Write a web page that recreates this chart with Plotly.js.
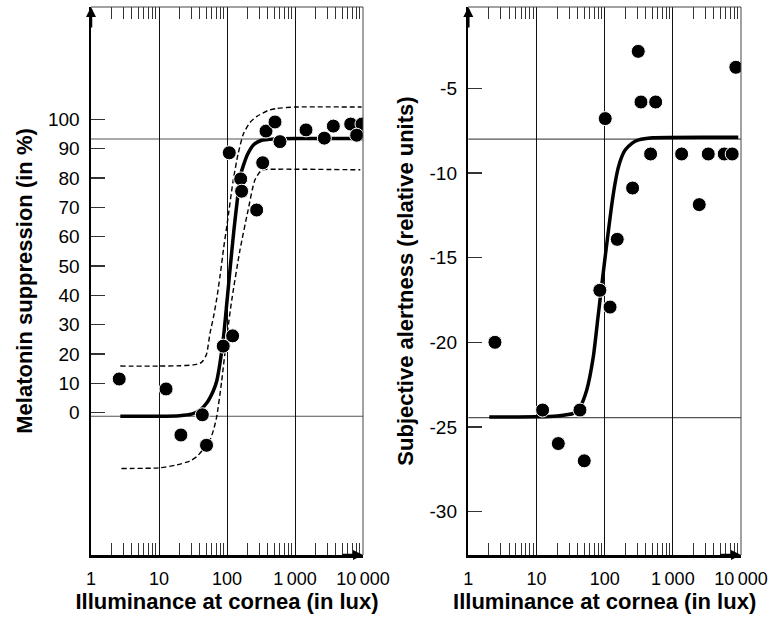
<!DOCTYPE html>
<html>
<head>
<meta charset="utf-8">
<script src="https://cdn.plot.ly/plotly-3.0.1.min.js"></script>
<style>html,body{margin:0;padding:0;background:#fff;}#chart{width:772px;height:618px;}</style>
</head>
<body>
<div id="chart"></div>
<script>
// ---- data ----
const xTickVals = [1, 10, 100, 1000, 10000];
const xTickText = ['1', '10', '100', '1\u2009000', '10\u2009000'];
const xMinorVals = [2,3,4,5,6,7,8,9,20,30,40,50,60,70,80,90,200,300,400,500,600,700,800,900,2000,3000,4000,5000,6000,7000,8000,9000];

const melTickVals = [0,10,20,30,40,50,60,70,80,90,100];
const alertTickVals = [-5,-10,-15,-20,-25,-30];
const alertTickText = ['-5','-10','-15','-20','-25','-30'];

// Melatonin suppression (left)
const melLux  = [2.6, 12.7, 21, 43.4, 50, 88, 121, 108, 159, 164, 335, 273, 375, 508, 601, 1452, 2700, 3660, 6590, 9660, 8070];
const melSupp = [11.5, 8.1, -7.6, -0.7, -11.1, 22.7, 26.2, 88.6, 79.7, 75.5, 85.2, 69.1, 96.0, 99.1, 92.4, 96.4, 93.6, 97.7, 98.4, 98.4, 94.6];

const melFitLux = [2.7, 5, 10, 20, 30, 40, 50, 63, 71, 79, 89, 100, 112, 126, 141, 158, 200, 251, 316, 501, 1000, 9800];
const melFit    = [-1.2, -1.2, -1.2, -1.0, -0.5, 0.9, 3.2, 7.5, 11, 17, 26, 38, 50, 62, 72, 81, 88, 91.5, 92.8, 93.3, 93.5, 93.5];

const melUpperLux = [2.7, 10, 20, 31.6, 39.8, 44.7, 50.1, 56.2, 63.1, 70.8, 79.4, 89.1, 100, 123, 145, 174, 219, 275, 398, 537, 1000, 9550];
const melUpper    = [15.9, 15.9, 16.0, 16.3, 16.8, 17.8, 20, 27, 32.5, 39, 47, 56, 64, 79, 88, 95, 99, 101, 103, 103.7, 104.2, 104.2];

const melLowerLux = [2.8, 10, 18.2, 28.2, 35.8, 44.7, 56.2, 63.1, 70.5, 83.2, 99, 117.5, 155, 204, 257, 324, 537, 9120];
const melLower    = [-19, -18.8, -17.8, -16.5, -15, -12.5, -9.3, -6, -1.4, 10.5, 25.5, 38.4, 55.4, 69, 79.3, 82.7, 83, 82.8];

const melAsymptotes = [-1.2, 93.3];

// Subjective alertness (right)
const alertLux = [311, 8410, 341, 560, 102, 472, 1346, 3310, 5680, 7430, 257, 2440, 153, 85, 120, 2.46, 12.3, 43.4, 20.9, 50.2];
const alertVal = [-2.82, -3.76, -5.81, -5.81, -6.79, -8.88, -8.88, -8.88, -8.88, -8.88, -10.89, -11.87, -13.92, -16.93, -17.92, -20.0, -24.0, -24.0, -25.98, -27.0];

const alertFitLux = [2.03, 10, 20, 34.7, 43.5, 54.5, 68.1, 79.4, 89.1, 100, 112, 126, 141, 158, 178, 200, 251, 316, 501, 9120];
const alertFit    = [-24.41, -24.4, -24.35, -24.2, -23.82, -22.83, -20.87, -18.6, -16.9, -15.2, -13.6, -12.0, -10.7, -9.7, -9.05, -8.65, -8.25, -8.05, -7.92, -7.89];

const alertAsymptotes = [-24.45, -8.0];

// ---- styling ----
const FONT = 'Liberation Sans, Arial, Helvetica, sans-serif';
const marker = {color: 'black', size: 14, line: {color: 'white', width: 1}};

const traces = [
  {x: melUpperLux, y: melUpper, mode: 'lines', line: {color: 'black', width: 1.4, dash: '5px,3px', shape: 'spline', smoothing: 0.6}, xaxis: 'x', yaxis: 'y', hoverinfo: 'skip'},
  {x: melLowerLux, y: melLower, mode: 'lines', line: {color: 'black', width: 1.4, dash: '5px,3px', shape: 'spline', smoothing: 0.6}, xaxis: 'x', yaxis: 'y', hoverinfo: 'skip'},
  {x: melFitLux, y: melFit, mode: 'lines', line: {color: 'black', width: 3.5, shape: 'spline', smoothing: 0.6}, xaxis: 'x', yaxis: 'y'},
  {x: melLux, y: melSupp, mode: 'markers', marker: marker, xaxis: 'x', yaxis: 'y'},
  {x: alertFitLux, y: alertFit, mode: 'lines', line: {color: 'black', width: 3.5, shape: 'spline', smoothing: 0.6}, xaxis: 'x2', yaxis: 'y2'},
  {x: alertLux, y: alertVal, mode: 'markers', marker: marker, xaxis: 'x2', yaxis: 'y2'},
  {x: [], y: [], xaxis: 'x3', yaxis: 'y', mode: 'markers'},
  {x: [], y: [], xaxis: 'x4', yaxis: 'y2', mode: 'markers'}
];

const minor = {tickmode: 'array', tickvals: xMinorVals, ticks: 'inside', ticklen: 12, tickwidth: 1, tickcolor: '#333', showgrid: false};

function xAxis(domain, anchor) {
  return {
    domain: domain, anchor: anchor, type: 'log', range: [0, 4],
    tickmode: 'array', tickvals: xTickVals, ticktext: xTickText, ticks: '',
    showgrid: true, gridcolor: '#111', gridwidth: 1,
    showline: true, linecolor: 'black', linewidth: 2.5, zeroline: false,
    tickfont: {size: 18, family: FONT, color: 'black'}, ticklabelstandoff: 6,
    minor: minor,
    title: {text: 'Illuminance at cornea (in lux)', font: {size: 22, family: FONT, weight: 'bold', color: 'black'}, standoff: 4}
  };
}
function topAxis(over, anchor) {
  return {
    overlaying: over, anchor: anchor, side: 'top', type: 'log', range: [0, 4],
    tickmode: 'array', tickvals: xTickVals, ticks: '', showticklabels: false,
    showgrid: false, showline: false, zeroline: false, minor: minor
  };
}
function border(xr, yr) {
  return [
    {type: 'line', xref: xr + ' domain', yref: yr + ' domain', x0: 0, x1: 1, y0: 1, y1: 1, line: {color: '#444', width: 1}},
    {type: 'line', xref: xr + ' domain', yref: yr + ' domain', x0: 1, x1: 1, y0: 0, y1: 1, line: {color: '#444', width: 1}}
  ];
}
function asym(vals, xr, yr) {
  return vals.map(v => ({type: 'line', layer: 'below', xref: xr + ' domain', yref: yr, x0: 0, x1: 1, y0: v, y1: v, line: {color: '#555', width: 1.2}}));
}
function arrow(x, y, ax, ay) {
  return {xref: 'paper', yref: 'paper', x: x, y: y, ax: ax, ay: ay, text: '', showarrow: true,
          arrowhead: 2, arrowsize: 0.8, arrowwidth: 2.5, arrowcolor: 'black'};
}

const xL = [91/772, 363/772];
const xR = [468.3/772, 741/772];

const layout = {
  width: 772, height: 618,
  margin: {l: 0, r: 0, t: 7, b: 63},
  showlegend: false,
  paper_bgcolor: 'white', plot_bgcolor: 'white',
  font: {family: FONT, color: 'black'},
  xaxis: xAxis(xL, 'y'),
  xaxis2: xAxis(xR, 'y2'),
  xaxis3: topAxis('x', 'y'),
  xaxis4: topAxis('x2', 'y2'),
  yaxis: {
    domain: [0, 1], anchor: 'x', range: [-48.5, 138.3],
    tickmode: 'array', tickvals: melTickVals, ticks: 'inside', ticklen: 14, tickwidth: 1.5, tickcolor: '#333',
    showgrid: false, zeroline: false, showline: true, linewidth: 2.5, linecolor: 'black',
    tickfont: {size: 19, family: FONT, color: 'black'}, ticklabelstandoff: 5,
    title: {text: 'Melatonin suppression (in %)', font: {size: 22, family: FONT, weight: 'bold', color: 'black'}, standoff: 10}
  },
  yaxis2: {
    domain: [0, 1], anchor: 'x2', range: [-32.56, -0.2],
    tickmode: 'array', tickvals: alertTickVals, ticktext: alertTickText, ticks: 'inside', ticklen: 14, tickwidth: 1.5, tickcolor: '#333',
    showgrid: false, zeroline: false, showline: true, linewidth: 2.5, linecolor: 'black',
    tickfont: {size: 19, family: FONT, color: 'black'}, ticklabelstandoff: 5,
    title: {text: 'Subjective alertness (relative units)', font: {size: 22, family: FONT, weight: 'bold', color: 'black'}, standoff: 10}
  },
  shapes: [].concat(border('x', 'y'), border('x2', 'y2'), asym(melAsymptotes, 'x', 'y'), asym(alertAsymptotes, 'x2', 'y2')),
  annotations: [
    arrow(xL[0], 1, 0, 22), arrow(xL[1], 0, -22, 0),
    arrow(xR[0], 1, 0, 22), arrow(xR[1], 0, -22, 0)
  ]
};

Plotly.newPlot('chart', traces, layout, {staticPlot: true, displayModeBar: false});
</script>
</body>
</html>
